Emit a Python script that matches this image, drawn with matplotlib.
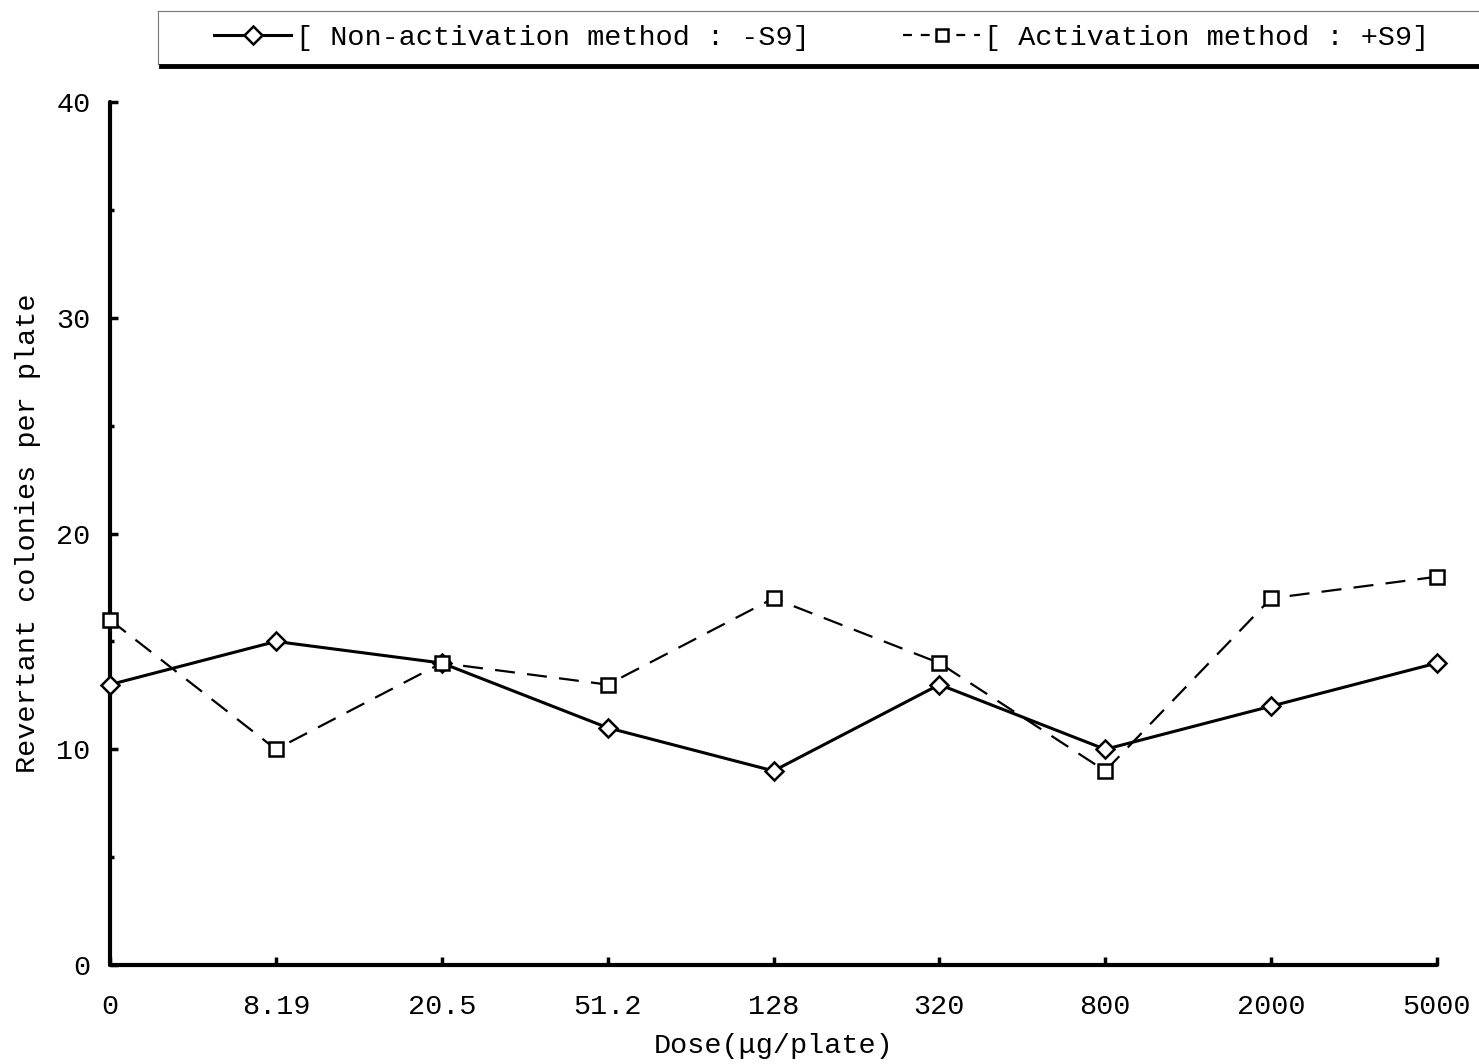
import matplotlib
matplotlib.use("Agg")
import matplotlib.pyplot as plt
from matplotlib.lines import Line2D
from matplotlib.ticker import MultipleLocator

# Ames test: revertant colonies per plate at each dose
doses = ["0", "8.19", "20.5", "51.2", "128", "320", "800", "2000", "5000"]
minus_s9 = [13, 15, 14, 11, 9, 13, 10, 12, 14]
plus_s9 = [16, 10, 14, 13, 17, 14, 9, 17, 18]

label_minus = "[ Non-activation method : -S9]"
label_plus = "[ Activation method : +S9]"

plt.rcParams['font.family'] = ['Liberation Mono', 'DejaVu Sans Mono']

fig = plt.figure(figsize=(14.79, 10.64), dpi=100)
ax = fig.add_axes([0.0744, 0.093, 0.8972, 0.811])

x = list(range(len(doses)))
ax.plot(x, minus_s9, color='black', lw=2.2, marker='D', markersize=9,
        markerfacecolor='white', markeredgecolor='black', markeredgewidth=1.8,
        clip_on=False, zorder=3)
ax.plot(x, plus_s9, color='black', lw=1.6, dashes=(9, 5.5), marker='s', markersize=10.5,
        markerfacecolor='white', markeredgecolor='black', markeredgewidth=1.8,
        clip_on=False, zorder=3)

ax.set_xlim(0, len(doses) - 1)
ax.set_ylim(0, 40)
ax.set_xticks(x)
ax.set_xticklabels(doses)
ax.yaxis.set_major_locator(MultipleLocator(10))
ax.yaxis.set_minor_locator(MultipleLocator(5))

for side in ['top', 'right']:
    ax.spines[side].set_visible(False)
for side in ['left', 'bottom']:
    ax.spines[side].set_linewidth(3.0)
    ax.spines[side].set_capstyle('round')

ax.tick_params(axis='both', which='major', direction='in', length=6, width=2.5,
               labelsize=20.5, color='black')
ax.tick_params(axis='y', which='minor', direction='in', length=3, width=2.5)
ax.tick_params(axis='x', pad=21)
ax.tick_params(axis='y', pad=14)

ax.set_xlabel("Dose(\u03bcg/plate)", fontsize=20.5, labelpad=9)
ax.set_ylabel("Revertant colonies per plate", fontsize=20.5, labelpad=11)

# legend strip across the top with a heavy bottom edge
handles = [
    Line2D([], [], color='black', lw=2.2, marker='D', markersize=9,
           markerfacecolor='white', markeredgewidth=1.8),
    Line2D([], [], color='black', lw=1.6, dashes=(4, 4), marker='s', markersize=9,
           markerfacecolor='white', markeredgewidth=1.8),
]
fig.legend(handles, [label_minus, label_plus], loc='center left',
           bbox_to_anchor=(0.145, 0.964), ncol=2, frameon=False, fontsize=20.5,
           handlelength=2.7, handletextpad=0.15, columnspacing=3.3,
           borderpad=0, borderaxespad=0)

fig.add_artist(Line2D([0.107, 1.0], [0.990, 0.990], color='#777777', lw=0.8,
                      transform=fig.transFigure))
fig.add_artist(Line2D([0.107, 0.107], [0.990, 0.940], color='#777777', lw=0.8,
                      transform=fig.transFigure))
fig.add_artist(Line2D([0.109, 1.0], [0.938, 0.938], color='black', lw=3.5,
                      transform=fig.transFigure))

fig.savefig("out.png", dpi=100, facecolor='white')
